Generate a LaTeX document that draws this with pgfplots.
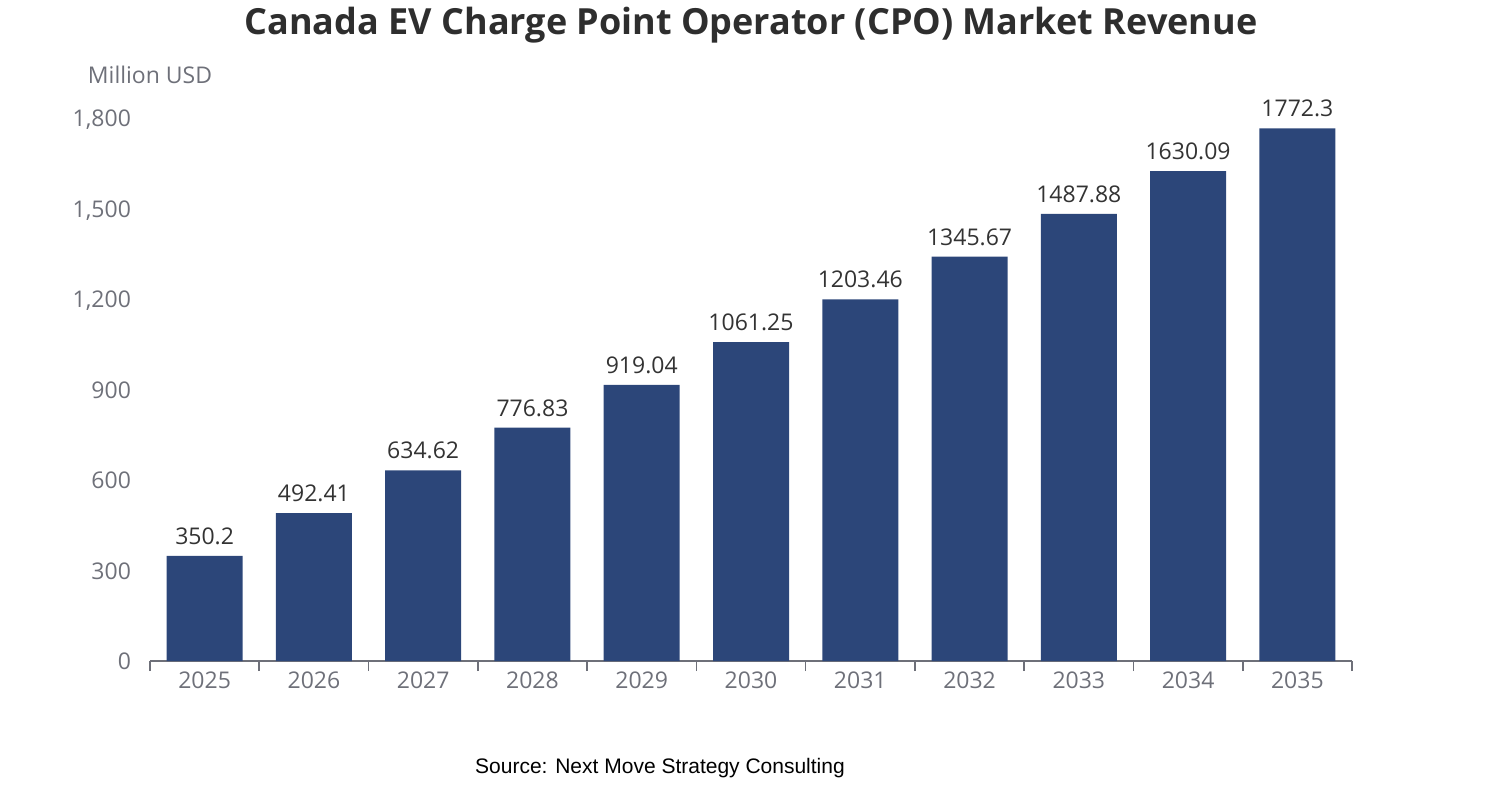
\documentclass[border=0pt]{standalone}
\usepackage{pgfplots}
\pgfplotsset{compat=1.18}
\usepackage{fontspec}
\setmainfont{Open Sans}
\newfontfamily\arial{Liberation Sans}
\definecolor{barc}{HTML}{2C4679}
\definecolor{gridc}{HTML}{E0E3EA}
\definecolor{tickc}{HTML}{6E7079}
\definecolor{labc}{HTML}{333333}
\begin{document}
\begin{tikzpicture}
\begin{axis}[
  scale only axis, width=601pt, height=270.5pt,
  xmin=-0.5, xmax=10.5, ymin=0, ymax=1800,
  axis x line*=bottom, axis y line=none,
  x axis line style={tickc, line width=0.8pt},
  xtick={0,...,10},
  xticklabels={2025,2026,2027,2028,2029,2030,2031,2032,2033,2034,2035},
  minor xtick={-0.5,0.5,...,10.5},
  major tick length=0pt, minor tick length=5pt, tick align=outside,
  minor tick style={tickc, line width=0.8pt},
  ytick={0,300,...,1800},
  ymajorgrids, grid style={gridc, line width=0.8pt},
  /pgf/number format/1000 sep={,},
  /pgf/number format/assume math mode=true,
  ticklabel style={font=\fontsize{11.5}{13}\selectfont, text=tickc},
  xticklabel style={yshift=-2pt},
  clip=false,
]
\addplot[ybar, bar width=38pt, fill=barc, draw=none,
  nodes near coords, point meta=explicit symbolic,
  nodes near coords style={font=\fontsize{11.5}{13}\selectfont, text=labc, yshift=2pt}]
  table[x=x, y=y, meta=l] {
x y l
0 350.2 350.2
1 492.41 492.41
2 634.62 634.62
3 776.83 776.83
4 919.04 919.04
5 1061.25 1061.25
6 1203.46 1203.46
7 1345.67 1345.67
8 1487.88 1487.88
9 1630.09 1630.09
10 1772.3 1772.3
};
\foreach \v in {0,300,...,1800} {
  \edef\tmp{\noexpand\node[anchor=east, font=\noexpand\fontsize{11.5}{13}\noexpand\selectfont, text=tickc] at (axis cs:-0.5,\v) [xshift=-6pt] {\noexpand\pgfmathprintnumber[1000 sep={,}]{\v}};}
  \tmp
}
\end{axis}
\path (-75pt,-69.5pt) rectangle (676pt,330.5pt);
\node[font=\bfseries\fontsize{18}{22}\selectfont, text=labc!90!black] at (300.5pt,318pt) {Canada EV Charge Point Operator (CPO) Market Revenue};
\node[font=\fontsize{11.5}{13}\selectfont, text=tickc] at (0pt,293pt) {Million USD};
\node[font=\arial\fontsize{10.5}{12}\selectfont, text=black] at (255pt,-53.5pt) {Source: Next Move Strategy Consulting};
\end{tikzpicture}
\end{document}
